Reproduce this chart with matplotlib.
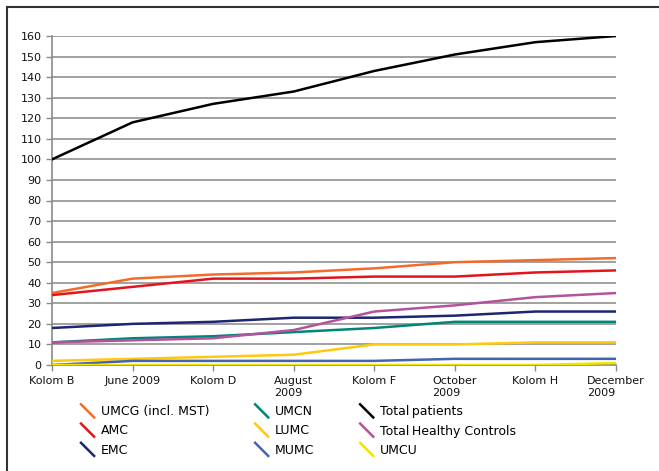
import matplotlib.pyplot as plt
from matplotlib.lines import Line2D
from matplotlib.legend_handler import HandlerLine2D

categories = ['Kolom B', 'June 2009', 'Kolom D', 'August\n2009', 'Kolom F',
              'October\n2009', 'Kolom H', 'December\n2009']

umcg = [35, 42, 44, 45, 47, 50, 51, 52]
amc = [34, 38, 42, 42, 43, 43, 45, 46]
emc = [18, 20, 21, 23, 23, 24, 26, 26]
umcn = [11, 13, 14, 16, 18, 21, 21, 21]
lumc = [2, 3, 4, 5, 10, 10, 11, 11]
mumc = [0, 2, 2, 2, 2, 3, 3, 3]
total_patients = [100, 118, 127, 133, 143, 151, 157, 160]
total_controls = [11, 12, 13, 17, 26, 29, 33, 35]
umcu = [0, 0, 0, 0, 0, 0, 0, 1]

series = [
    ('UMCG (incl. MST)', umcg, '#F26B2A'),
    ('AMC', amc, '#E3141E'),
    ('EMC', emc, '#1D2670'),
    ('UMCN', umcn, '#00857A'),
    ('LUMC', lumc, '#FFC90E'),
    ('MUMC', mumc, '#4563AE'),
    ('Total\u2009patients', total_patients, '#000000'),
    ('Total\u2009Healthy Controls', total_controls, '#B4529C'),
    ('UMCU', umcu, '#F2E600'),
]


class DiagonalHandler(HandlerLine2D):
    # short slanted stroke like the spreadsheet legend keys
    def create_artists(self, legend, orig_handle, xdescent, ydescent,
                       width, height, fontsize, trans):
        line = Line2D([0.1 * width, 0.85 * width], [height * 1.25, -0.25 * height],
                      color=orig_handle.get_color(),
                      linewidth=orig_handle.get_linewidth())
        line.set_transform(trans)
        return [line]


plt.rcParams['font.family'] = ['DejaVu Sans']

W, H = 659, 471
fig = plt.figure(figsize=(W / 100, H / 100), dpi=100)

# outer frame
fig.add_artist(Line2D([7 / W, 7 / W], [0, 1 - 7 / H], color='#333333', lw=1.5,
                      transform=fig.transFigure))
fig.add_artist(Line2D([7 / W, 1], [1 - 7 / H, 1 - 7 / H], color='#333333', lw=1.5,
                      transform=fig.transFigure))

ax = fig.add_axes([52 / W, 1 - 365 / H, (616 - 52) / W, (365 - 36) / H])

x = list(range(len(categories)))
handles = []
for name, vals, col in series:
    h, = ax.plot(x, vals, color=col, lw=1.8, label=name, zorder=3)
    handles.append(h)

ax.set_xlim(0, len(categories) - 1)
ax.set_ylim(0, 160)
ax.set_yticks(range(0, 161, 10))
ax.set_xticks(x)
ax.set_xticklabels(categories, multialignment='left')
ax.yaxis.grid(True, color='#999999', lw=1.3)
ax.set_axisbelow(True)
for s in ['top', 'right']:
    ax.spines[s].set_visible(False)
for s in ['left', 'bottom']:
    ax.spines[s].set_color('#8a8a8a')
    ax.spines[s].set_linewidth(1.2)
ax.tick_params(axis='both', labelsize=8, colors='#8a8a8a', labelcolor='#111111',
               length=4, width=1)
ax.tick_params(axis='x', pad=4)

fig.legend(handles=handles, loc='upper left', bbox_to_anchor=(68 / W, 1 - 394 / H),
           ncol=3, frameon=False, fontsize=9, handlelength=1.4, handletextpad=0.35,
           columnspacing=3.5, labelspacing=0.5,
           handler_map={Line2D: DiagonalHandler()})

fig.savefig('out.png', dpi=100)
